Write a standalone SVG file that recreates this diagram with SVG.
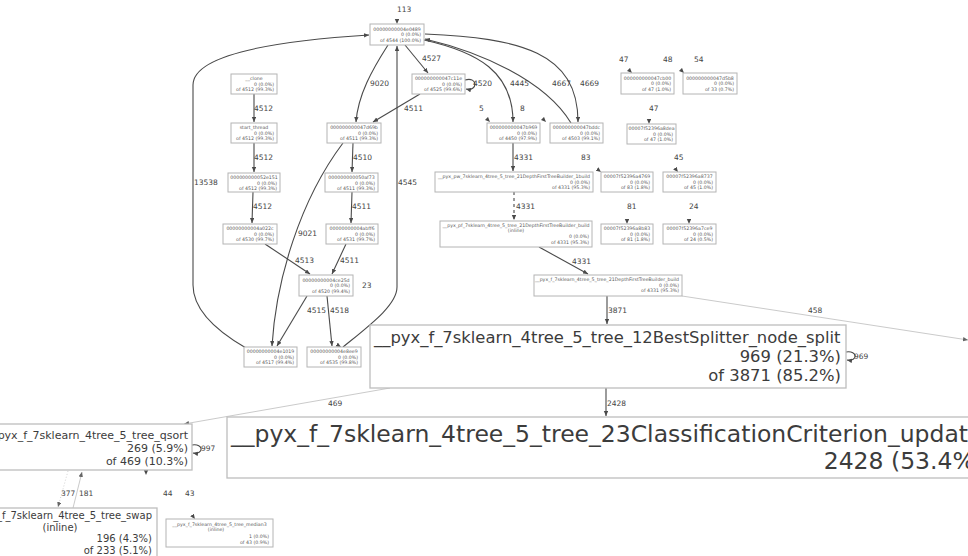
<svg xmlns="http://www.w3.org/2000/svg" width="968" height="556" viewBox="0 0 968 556">
  <defs>
    <marker id="ah" markerUnits="userSpaceOnUse" markerWidth="6" markerHeight="5" refX="5" refY="2.2" orient="auto">
      <path d="M0,0 L5,2.2 L0,4.4 z" fill="#4a4a4a"/>
    </marker>
    <marker id="ahl" markerUnits="userSpaceOnUse" markerWidth="6" markerHeight="5" refX="5" refY="2.2" orient="auto">
      <path d="M0,0 L5,2.2 L0,4.4 z" fill="#666"/>
    </marker>
    <style>
      text { font-family: "DejaVu Sans", sans-serif; fill: #3c3c3c; }
      .box { fill: #ffffff; stroke: #b4b4b4; stroke-width: 1; }
      .big { fill: #ffffff; stroke: #bdbdbd; stroke-width: 1.3; }
      .s { font-size: 4.7px; fill: #5a5a5a; }
      .c { text-anchor: middle; }
      .r { text-anchor: end; }
      .e { fill: none; stroke: #4a4a4a; stroke-width: 1.1; marker-end: url(#ah); }
      .lt { fill: none; stroke: #bdbdbd; stroke-width: 0.8; marker-end: url(#ahl); }
      .dot { fill: none; stroke: #c8c8c8; stroke-width: 0.8; stroke-dasharray: 1 2; marker-end: url(#ahl); }
      .dash { fill: none; stroke: #4a4a4a; stroke-width: 1.1; stroke-dasharray: 3 3; marker-end: url(#ah); }
      .stub { fill: none; stroke: none; marker-end: url(#ah); }
      .el { font-size: 7.5px; fill: #444; }
    </style>
  </defs>

  <!-- call edges -->
  <g id="edges">
    <path class="stub" d="M397,15 L397,24"/>
    <path class="e" d="M246,348 C220,333 193,312 193,285 L193,85 C193,52 290,40 369,35"/>
    <path class="e" d="M388,45 C372,70 358,95 356,122"/>
    <path class="e" d="M405,45 L428,73"/>
    <path class="e" d="M465,80 C478,76 478,92 466,89"/>
    <path class="e" d="M420,94 L373,122"/>
    <path class="e" d="M424,40 C478,52 513,72 513,122"/>
    <path class="e" d="M571,123 C545,80 480,52 425,39"/>
    <path class="e" d="M425,34 C520,38 578,52 578,122"/>
    <path class="stub" d="M486,118 L490,122"/>
    <path class="stub" d="M542,118 L546,122"/>
    <path class="stub" d="M628,69 L632,73"/>
    <path class="stub" d="M680,69 L684,73"/>
    <path class="stub" d="M649,118 L649,124"/>
    <path class="e" d="M513,143 L513,171"/>
    <path class="stub" d="M596,168 L601,172"/>
    <path class="stub" d="M674,167 L678,172"/>
    <path class="dash" d="M514,192 L514,220"/>
    <path class="stub" d="M627,218 L627,224"/>
    <path class="stub" d="M689,218 L689,224"/>
    <path class="e" d="M539,247 L588,274"/>
    <path class="e" d="M607,296 L607,324"/>
    <path class="lt" d="M682,296 L968,340"/>
    <path class="e" d="M846,352 C858,350 858,362 847,360"/>
    <path class="e" d="M606,388 L606,416"/>
    <path class="lt" d="M390,388 L184,424"/>
    <path class="e" d="M192,445 C204,443 204,455 193,453"/>
    <path class="stub" d="M146,469 L146,475"/>
    <path class="dot" d="M68,471 L58,507"/>
    <path class="lt" d="M73,508 L82,472"/>
    <path class="stub" d="M192,515 L195,519"/>
    <path class="e" d="M254,94 L254,122"/>
    <path class="e" d="M254,143 L254,172"/>
    <path class="e" d="M253,192 L252,223"/>
    <path class="e" d="M353,143 L352,172"/>
    <path class="e" d="M352,192 L351,223"/>
    <path class="e" d="M265,244 L310,274"/>
    <path class="e" d="M346,244 L332,274"/>
    <path class="e" d="M307,296 L277,346"/>
    <path class="e" d="M327,296 L332,346"/>
    <path class="e" d="M343,143 C300,200 276,280 272,346"/>
    <path class="e" d="M343,347 C370,325 397,305 397,287 L397,46"/>
    <path class="stub" d="M336,344 L341,347"/>

    <text class="el" x="397" y="12">113</text>
    <text class="el" x="194" y="185">13538</text>
    <text class="el" x="370" y="86">9020</text>
    <text class="el" x="422" y="61">4527</text>
    <text class="el" x="473" y="86">4520</text>
    <text class="el" x="404" y="111">4511</text>
    <text class="el" x="510" y="86">4445</text>
    <text class="el" x="552" y="86">4667</text>
    <text class="el" x="580" y="86">4669</text>
    <text class="el" x="479" y="111">5</text>
    <text class="el" x="520" y="111">8</text>
    <text class="el" x="619" y="62">47</text>
    <text class="el" x="663" y="62">48</text>
    <text class="el" x="694" y="62">54</text>
    <text class="el" x="649" y="111">47</text>
    <text class="el" x="514" y="160">4331</text>
    <text class="el" x="581" y="160">83</text>
    <text class="el" x="674" y="160">45</text>
    <text class="el" x="516" y="209">4331</text>
    <text class="el" x="627" y="209">81</text>
    <text class="el" x="689" y="209">24</text>
    <text class="el" x="572" y="264">4331</text>
    <text class="el" x="608" y="313">3871</text>
    <text class="el" x="808" y="313">458</text>
    <text class="el" x="854" y="359">969</text>
    <text class="el" x="607" y="406">2428</text>
    <text class="el" x="328" y="406">469</text>
    <text class="el" x="201" y="451">997</text>
    <text class="el" x="61" y="496">377</text>
    <text class="el" x="79" y="496">181</text>
    <text class="el" x="163" y="496">44</text>
    <text class="el" x="185" y="496">43</text>
    <text class="el" x="254" y="111">4512</text>
    <text class="el" x="254" y="160">4512</text>
    <text class="el" x="253" y="209">4512</text>
    <text class="el" x="353" y="160">4510</text>
    <text class="el" x="352" y="209">4511</text>
    <text class="el" x="295" y="263">4513</text>
    <text class="el" x="340" y="263">4511</text>
    <text class="el" x="362" y="288">23</text>
    <text class="el" x="307" y="313">4515</text>
    <text class="el" x="330" y="313">4518</text>
    <text class="el" x="298" y="236">9021</text>
    <text class="el" x="398" y="185">4545</text>
  </g>

  <!-- nodes -->
  <g id="n_4e0489">
    <rect class="box" x="370" y="24" width="54" height="21"/>
    <text class="s c" x="397" y="30.5">00000000004e0489</text>
    <text class="s r" x="421" y="36">0 (0.0%)</text>
    <text class="s r" x="421" y="41.5">of 4544 (100.0%)</text>
  </g>
  <g id="n_clone">
    <rect class="box" x="231" y="74" width="46" height="20"/>
    <text class="s c" x="254" y="80">__clone</text>
    <text class="s r" x="274" y="85.5">0 (0.0%)</text>
    <text class="s r" x="274" y="91">of 4512 (99.3%)</text>
  </g>
  <g id="n_start_thread">
    <rect class="box" x="231" y="123" width="46" height="20"/>
    <text class="s c" x="254" y="129">start_thread</text>
    <text class="s r" x="274" y="134.5">0 (0.0%)</text>
    <text class="s r" x="274" y="140">of 4512 (99.3%)</text>
  </g>
  <g id="n_52e151">
    <rect class="box" x="228" y="173" width="52" height="19"/>
    <text class="s c" x="254" y="179">000000000052e151</text>
    <text class="s r" x="277" y="184.5">0 (0.0%)</text>
    <text class="s r" x="277" y="190">of 4512 (99.3%)</text>
  </g>
  <g id="n_4a022c">
    <rect class="box" x="223" y="224" width="54" height="20"/>
    <text class="s c" x="250" y="230">00000000004a022c</text>
    <text class="s r" x="274" y="235.5">0 (0.0%)</text>
    <text class="s r" x="274" y="241">of 4530 (99.7%)</text>
  </g>
  <g id="n_47d69b">
    <rect class="box" x="327" y="123" width="54" height="20"/>
    <text class="s c" x="354" y="129">000000000047d69b</text>
    <text class="s r" x="378" y="134.5">0 (0.0%)</text>
    <text class="s r" x="378" y="140">of 4511 (99.3%)</text>
  </g>
  <g id="n_50af73">
    <rect class="box" x="325" y="173" width="53" height="19"/>
    <text class="s c" x="351.5" y="179">000000000050af73</text>
    <text class="s r" x="375" y="184.5">0 (0.0%)</text>
    <text class="s r" x="375" y="190">of 4511 (99.3%)</text>
  </g>
  <g id="n_4abff6">
    <rect class="box" x="326" y="224" width="52" height="20"/>
    <text class="s c" x="352" y="230">00000000004abff6</text>
    <text class="s r" x="375" y="235.5">0 (0.0%)</text>
    <text class="s r" x="375" y="241">of 4531 (99.7%)</text>
  </g>
  <g id="n_4ce25d">
    <rect class="box" x="299" y="275" width="54" height="21"/>
    <text class="s c" x="326" y="281.5">00000000004ce25d</text>
    <text class="s r" x="350" y="287">0 (0.0%)</text>
    <text class="s r" x="350" y="292.5">of 4520 (99.4%)</text>
  </g>
  <g id="n_4e1019">
    <rect class="box" x="244" y="347" width="53" height="20"/>
    <text class="s c" x="270.5" y="353">00000000004e1019</text>
    <text class="s r" x="294" y="358.5">0 (0.0%)</text>
    <text class="s r" x="294" y="364">of 4517 (99.4%)</text>
  </g>
  <g id="n_4e8ee9">
    <rect class="box" x="307" y="347" width="54" height="20"/>
    <text class="s c" x="334" y="353">00000000004e8ee9</text>
    <text class="s r" x="358" y="358.5">0 (0.0%)</text>
    <text class="s r" x="358" y="364">of 4535 (99.8%)</text>
  </g>
  <g id="n_47c11e">
    <rect class="box" x="412" y="74" width="53" height="20"/>
    <text class="s c" x="438.5" y="80">000000000047c11e</text>
    <text class="s r" x="462" y="85.5">0 (0.0%)</text>
    <text class="s r" x="462" y="91">of 4525 (99.6%)</text>
  </g>
  <g id="n_47b969">
    <rect class="box" x="487" y="123" width="53" height="20"/>
    <text class="s c" x="513.5" y="129">000000000047b969</text>
    <text class="s r" x="537" y="134.5">0 (0.0%)</text>
    <text class="s r" x="537" y="140">of 4450 (97.9%)</text>
  </g>
  <g id="n_47bddc">
    <rect class="box" x="550" y="123" width="53" height="20"/>
    <text class="s c" x="576.5" y="129">000000000047bddc</text>
    <text class="s r" x="600" y="134.5">0 (0.0%)</text>
    <text class="s r" x="600" y="140">of 4503 (99.1%)</text>
  </g>
  <g id="n_47cb00">
    <rect class="box" x="621" y="73" width="53" height="21"/>
    <text class="s c" x="647.5" y="79.5">000000000047cb00</text>
    <text class="s r" x="671" y="85">0 (0.0%)</text>
    <text class="s r" x="671" y="90.5">of 47 (1.0%)</text>
  </g>
  <g id="n_47d5b8">
    <rect class="box" x="683" y="73" width="54" height="21"/>
    <text class="s c" x="710" y="79.5">000000000047d5b8</text>
    <text class="s r" x="734" y="85">0 (0.0%)</text>
    <text class="s r" x="734" y="90.5">of 33 (0.7%)</text>
  </g>
  <g id="n_7f52396a8dea">
    <rect class="box" x="627" y="124" width="49" height="20"/>
    <text class="s c" x="651.5" y="130">00007f52396a8dea</text>
    <text class="s r" x="673" y="135.5">0 (0.0%)</text>
    <text class="s r" x="673" y="141">of 47 (1.0%)</text>
  </g>
  <g id="n_DepthFirstTreeBuilder_1build">
    <rect class="box" x="435" y="172" width="158" height="20"/>
    <text class="s c" x="514" y="178">__pyx_pw_7sklearn_4tree_5_tree_21DepthFirstTreeBuilder_1build</text>
    <text class="s r" x="590" y="183.5">0 (0.0%)</text>
    <text class="s r" x="590" y="189">of 4331 (95.3%)</text>
  </g>
  <g id="n_7f52396a4769">
    <rect class="box" x="601" y="172" width="52" height="20"/>
    <text class="s c" x="627" y="178">00007f52396a4769</text>
    <text class="s r" x="650" y="183.5">0 (0.0%)</text>
    <text class="s r" x="650" y="189">of 83 (1.8%)</text>
  </g>
  <g id="n_7f52396a8737">
    <rect class="box" x="663" y="172" width="53" height="20"/>
    <text class="s c" x="689.5" y="178">00007f52396a8737</text>
    <text class="s r" x="713" y="183.5">0 (0.0%)</text>
    <text class="s r" x="713" y="189">of 45 (1.0%)</text>
  </g>
  <g id="n_pf_DepthFirstTreeBuilder_build">
    <rect class="box" x="440" y="221" width="152" height="26"/>
    <text class="s c" x="516" y="227">__pyx_pf_7sklearn_4tree_5_tree_21DepthFirstTreeBuilder_build</text>
    <text class="s c" x="516" y="232">(inline)</text>
    <text class="s r" x="589" y="238">0 (0.0%)</text>
    <text class="s r" x="589" y="243.5">of 4331 (95.3%)</text>
  </g>
  <g id="n_7f52396a8b83">
    <rect class="box" x="601" y="224" width="52" height="20"/>
    <text class="s c" x="627" y="230">00007f52396a8b83</text>
    <text class="s r" x="650" y="235.5">0 (0.0%)</text>
    <text class="s r" x="650" y="241">of 81 (1.8%)</text>
  </g>
  <g id="n_7f52396a7ce9">
    <rect class="box" x="663" y="224" width="53" height="20"/>
    <text class="s c" x="689.5" y="230">00007f52396a7ce9</text>
    <text class="s r" x="713" y="235.5">0 (0.0%)</text>
    <text class="s r" x="713" y="241">of 24 (0.5%)</text>
  </g>
  <g id="n_f_DepthFirstTreeBuilder_build">
    <rect class="box" x="534" y="275" width="148" height="21"/>
    <text class="s c" x="607" y="281">__pyx_f_7sklearn_4tree_5_tree_21DepthFirstTreeBuilder_build</text>
    <text class="s r" x="679" y="286.5">0 (0.0%)</text>
    <text class="s r" x="679" y="292">of 4331 (95.3%)</text>
  </g>
  <g id="n_BestSplitter_node_split">
    <rect class="big" x="370" y="325" width="476" height="63"/>
    <text x="374" y="343" font-size="16.4">__pyx_f_7sklearn_4tree_5_tree_12BestSplitter_node_split</text>
    <text class="r" x="841" y="362" font-size="16.4">969 (21.3%)</text>
    <text class="r" x="841" y="381" font-size="16.4">of 3871 (85.2%)</text>
  </g>
  <g id="n_ClassificationCriterion_update">
    <rect class="big" x="227" y="417" width="800" height="61"/>
    <text x="231" y="442" font-size="23.5">__pyx_f_7sklearn_4tree_5_tree_23ClassificationCriterion_update</text>
    <text class="r" x="984" y="469" font-size="23.5">2428 (53.4%)</text>
  </g>
  <g id="n_qsort">
    <rect class="big" x="-20" y="424" width="212" height="46"/>
    <text class="r" x="188" y="439" font-size="11">__pyx_f_7sklearn_4tree_5_tree_qsort</text>
    <text class="r" x="188" y="452" font-size="11">269 (5.9%)</text>
    <text class="r" x="188" y="465" font-size="11">of 469 (10.3%)</text>
  </g>
  <g id="n_swap">
    <rect class="big" x="-37" y="508" width="194" height="60"/>
    <text class="r" x="152" y="519" font-size="10">__pyx_f_7sklearn_4tree_5_tree_swap</text>
    <text class="c" x="60" y="531" font-size="10">(inline)</text>
    <text class="r" x="152" y="542" font-size="10">196 (4.3%)</text>
    <text class="r" x="152" y="554" font-size="10">of 233 (5.1%)</text>
  </g>
  <g id="n_median3">
    <rect class="box" x="166" y="519" width="107" height="28"/>
    <text class="s c" x="219.5" y="525.5">__pyx_f_7sklearn_4tree_5_tree_median3</text>
    <text class="s c" x="216" y="531">(inline)</text>
    <text class="s r" x="269" y="537.5">1 (0.0%)</text>
    <text class="s r" x="269" y="543.5">of 43 (0.9%)</text>
  </g>
</svg>
